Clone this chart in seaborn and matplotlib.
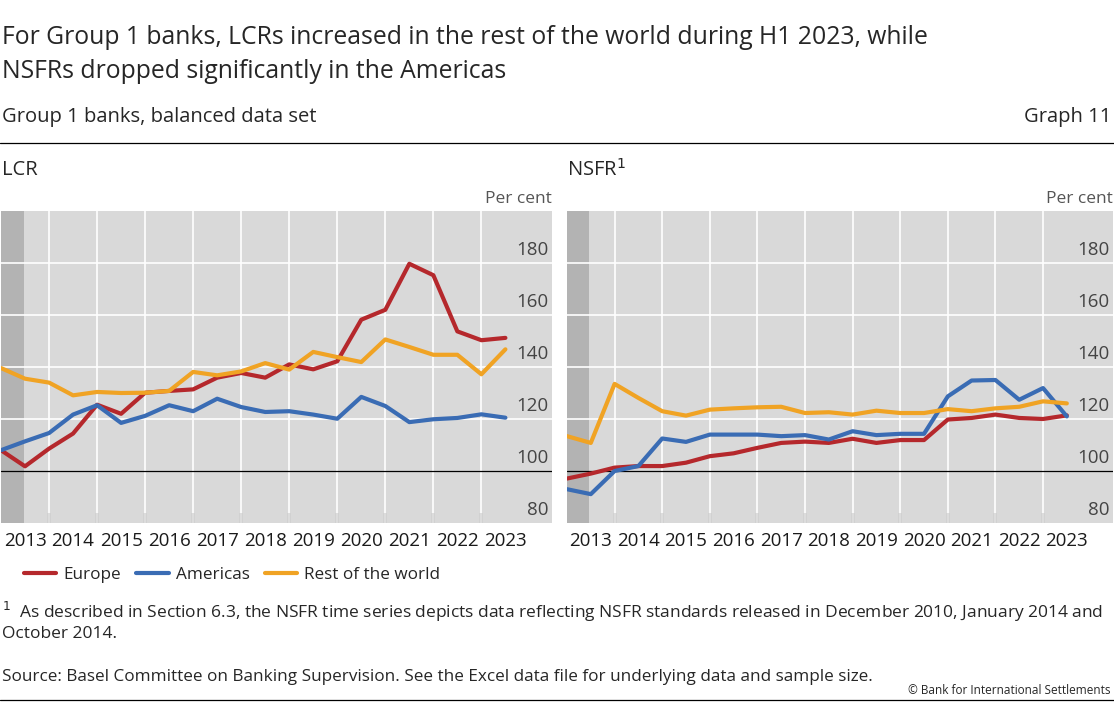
import numpy as np
import pandas as pd
import matplotlib.pyplot as plt
import seaborn as sns
from matplotlib.lines import Line2D

# half-yearly observations, 2013 H1 .. 2023 H2 end points
periods = np.arange(2013.0, 2024.0, 0.5)
series_names = ["Europe", "Americas", "Rest of the world"]
colors = ["#b5282c", "#3a6cb4", "#f0a324"]

lcr_europe = [108, 101.8, 108.6, 114.4, 125.5, 122, 130.1, 130.8, 131.4, 135.9, 137.7,
              135.9, 141, 139.1, 142.2, 158.2, 162, 179.7, 175.3, 153.7, 150.3, 151.2]
lcr_americas = [108, 111.4, 114.6, 121.7, 125.3, 118.5, 121.2, 125.3, 123, 127.8, 124.6,
                122.7, 123, 121.7, 120.1, 128.5, 125, 118.8, 119.9, 120.4, 121.8, 120.5]
lcr_row = [139.6, 135.5, 134, 129.1, 130.4, 130, 130.1, 130.8, 138.1, 136.8, 138.3,
           141.5, 139, 145.8, 143.8, 141.9, 150.6, 147.7, 144.7, 144.7, 137.2, 146.8]

nsfr_europe = [97.1, 99, 101.3, 101.9, 101.9, 103.2, 105.7, 106.8, 108.9, 110.8, 111.3,
               110.8, 112.4, 110.8, 111.9, 111.9, 119.8, 120.4, 121.7, 120.4, 120, 121.4]
nsfr_americas = [93, 91.1, 100, 101.9, 112.5, 111.2, 114, 114, 114, 113.4, 113.8,
                 112.1, 115.3, 113.8, 114.3, 114.3, 128.7, 134.8, 135, 127.4, 131.9, 121]
nsfr_row = [113.4, 110.8, 133.5, 128.1, 123, 121.3, 123.6, 124.1, 124.5, 124.7, 122.3,
            122.6, 121.7, 123.2, 122.3, 122.3, 123.8, 123, 124.1, 124.7, 126.8, 126]

year_labels = [str(y) for y in range(2013, 2024)]
y_ticks = [80, 100, 120, 140, 160, 180]

sns.set_style("white")
plt.rcParams["font.family"] = ["Open Sans", "DejaVu Sans"]

fig = plt.figure(figsize=(11.14, 7.03), dpi=100)
W, H = 1114, 703


def make_df(eu, am, rw):
    frames = []
    for name, vals in zip(series_names, [eu, am, rw]):
        frames.append(pd.DataFrame({"period": periods, "value": vals, "region": name}))
    return pd.concat(frames, ignore_index=True)


def draw_panel(ax, df):
    ax.set_facecolor("#d9d9d9")
    ax.axvspan(2013.0, 2013.47, color="#b3b3b3", lw=0, zorder=0)
    for yr in range(2014, 2024):
        ax.axvline(yr, color="white", lw=1.2, zorder=1)
    for v in [120, 140, 160, 180]:
        ax.axhline(v, color="white", lw=1.2, zorder=1)
    ax.axhline(100, color="black", lw=0.9, zorder=2)
    sns.lineplot(data=df, x="period", y="value", hue="region", palette=colors,
                 hue_order=series_names, lw=3, legend=False, ax=ax, zorder=3)
    ax.set_xlim(2013.0, 2024.47)
    ax.set_ylim(80, 200)
    ax.set_xlabel("")
    ax.set_ylabel("")
    ax.set_xticks(range(2014, 2024))
    ax.set_xticklabels([])
    ax.tick_params(axis="x", direction="in", length=7, width=1.5, color="#333333", bottom=True)
    ax.set_yticks([])
    for s in ax.spines.values():
        s.set_visible(False)
    for i, lab in enumerate(year_labels):
        ax.text(2013.5 + i, 76.5, lab, ha="center", va="top", fontsize=13.5, color="#1a1a1a")
    for v in y_ticks:
        ax.text(2024.4, v + 1.5, str(v), ha="right", va="bottom", fontsize=13.5, color="#444444")
    ax.text(2024.47, 201.5, "Per cent", ha="right", va="bottom", fontsize=12.5, color="#555555")


ax1 = fig.add_axes([1 / W, 1 - 523 / H, 551 / W, 312 / H])
ax2 = fig.add_axes([567 / W, 1 - 523 / H, 546 / W, 312 / H])
draw_panel(ax1, make_df(lcr_europe, lcr_americas, lcr_row))
draw_panel(ax2, make_df(nsfr_europe, nsfr_americas, nsfr_row))


def fy(py):
    return 1 - py / H


fig.text(2 / W, fy(38), "For Group 1 banks, LCRs increased in the rest of the world during H1 2023, while",
         fontsize=17.8, va="center")
fig.text(2 / W, fy(72), "NSFRs dropped significantly in the Americas", fontsize=17.8, va="center")
fig.text(2 / W, fy(117), "Group 1 banks, balanced data set", fontsize=14.5, va="center")
fig.text(1111 / W, fy(117), "Graph 11", fontsize=14.5, va="center", ha="right")
fig.add_artist(Line2D([0, 1], [fy(143), fy(143)], color="black", lw=0.9))
fig.add_artist(Line2D([0, 1], [fy(700), fy(700)], color="black", lw=0.9))
fig.text(2 / W, fy(170), "LCR", fontsize=14.5, va="center")
fig.text(567 / W, fy(170), "NSFR$^{1}$", fontsize=14.5, va="center")

handles = [Line2D([], [], color=c, lw=3) for c in colors]
fig.legend(handles, series_names, loc="center left", bbox_to_anchor=(24 / W, fy(575)),
           ncol=3, frameon=False, fontsize=12.3, handlelength=1.9, columnspacing=0.9,
           handletextpad=0.4, borderaxespad=0, borderpad=0)

fig.text(2 / W, fy(612), "$^{1}$  As described in Section 6.3, the NSFR time series depicts data reflecting NSFR standards released in December 2010, January 2014 and",
         fontsize=12.5, va="center")
fig.text(2 / W, fy(634), "October 2014.", fontsize=12.5, va="center")
fig.text(2 / W, fy(677), "Source: Basel Committee on Banking Supervision. See the Excel data file for underlying data and sample size.",
         fontsize=12.3, va="center")
fig.text(1111 / W, fy(690), "© Bank for International Settlements", fontsize=8.5, va="center", ha="right")

fig.savefig("out.png", dpi=100)
